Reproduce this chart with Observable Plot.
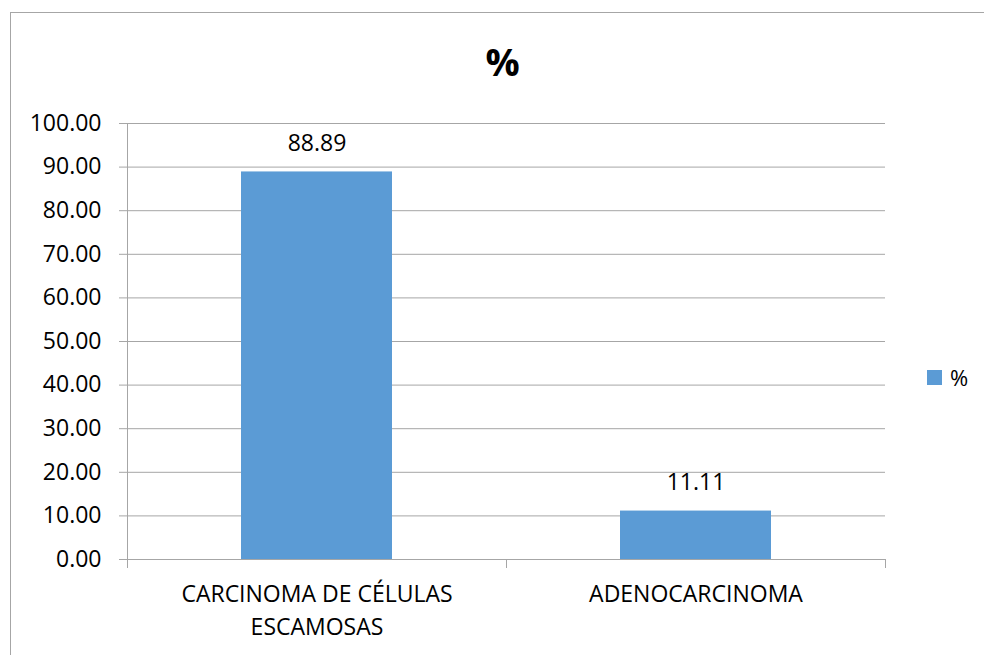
<!DOCTYPE html>
<html><head><meta charset="utf-8">
<script src="https://cdn.jsdelivr.net/npm/d3@7"></script>
<script src="https://cdn.jsdelivr.net/npm/@observablehq/plot@0.6"></script>
<style>
html,body{margin:0;padding:0;background:#fff;overflow:hidden;}
#wrap{position:relative;width:984px;height:655px;}
#border{position:absolute;left:10px;top:12px;width:1000px;height:700px;border:1.5px solid #a6a6a6;box-sizing:border-box;pointer-events:none}
#legend{position:absolute;left:927px;top:362px;font:22px "Open Sans";color:#000;display:flex;align-items:center;gap:8px}
.sw{width:15px;height:15px;background:#5b9bd5}
</style></head><body><div id="wrap"><div id="chart"></div><div id="border"></div><div id="legend"><div class="sw"></div><span id="legtext"></span></div></div>
<script>
const title = "%";
const seriesName = "%";
const categories = ["CARCINOMA DE CÉLULAS\nESCAMOSAS", "ADENOCARCINOMA"];
const values = [88.89, 11.11];
const yTicks = [0, 10, 20, 30, 40, 50, 60, 70, 80, 90, 100];
const barColor = "#5b9bd5";
const gridColor = "#a6a6a6";

const data = categories.map((c, i) => ({i, category: c, value: values[i]}));
document.getElementById("legtext").textContent = seriesName;

const chart = Plot.plot({
  width: 984,
  height: 655,
  marginLeft: 127,
  marginRight: 99,
  marginTop: 123,
  marginBottom: 96,
  style: {fontFamily: "Open Sans", fontSize: "23px", color: "#000", background: "#fff", overflow: "visible"},
  x: {domain: [0, categories.length], axis: null},
  y: {domain: [0, 100], axis: null},
  marks: [
    Plot.gridY(yTicks, {stroke: gridColor, strokeOpacity: 1, strokeWidth: 1}),
    Plot.ruleX([0], {stroke: gridColor, strokeWidth: 1}),
    Plot.axisY({ticks: yTicks, tickSize: 8, tickPadding: 18, tickFormat: d3.format(".2f"), stroke: gridColor, fill: "#000", fontSize: 23, label: null}),
    Plot.axisX({ticks: d3.range(categories.length + 1), tickSize: 9, tickFormat: () => "", stroke: gridColor, label: null}),
    Plot.rectY(data, {x1: d => d.i, x2: d => d.i + 1, y1: 0, y2: d => d.value, fill: barColor, insetLeft: 114, insetRight: 114}),
    Plot.text(data, {x: d => d.i + 0.5, y: d => d.value, text: d => d.value.toFixed(2), dy: -28, lineAnchor: "middle", fontSize: 23, fill: "#000"}),
    Plot.text(data, {x: d => d.i + 0.5, frameAnchor: "bottom", text: d => d.category, lineAnchor: "top", dy: 18, lineHeight: 1.47, fontSize: 23, fill: "#000"}),
    Plot.text([title], {frameAnchor: "top", lineAnchor: "middle", dy: -60, dx: -4, text: d => d, fontSize: 38, fontWeight: "bold", fill: "#000"})
  ]
});
document.getElementById("chart").appendChild(chart);
</script>
</body></html>
